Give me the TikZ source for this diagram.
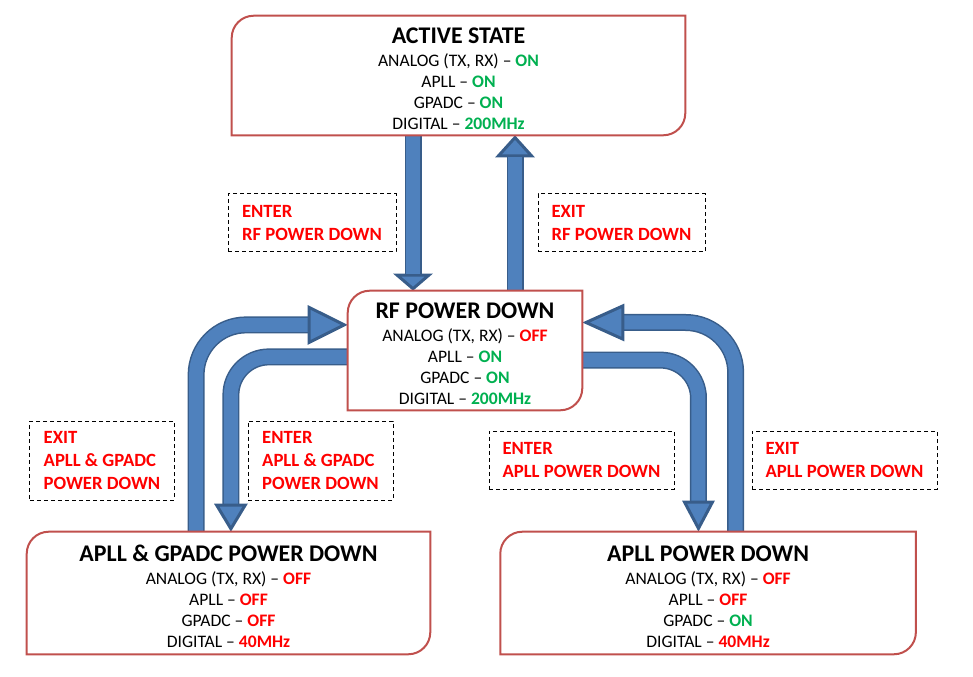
\documentclass[tikz,border=0pt]{standalone}
\usepackage{fontspec}
\setmainfont{Carlito}
\usetikzlibrary{arrows.meta,positioning}
\definecolor{StateRed}{HTML}{C0504D}
\definecolor{ArrowFill}{HTML}{4F81BD}
\definecolor{ArrowEdge}{HTML}{385D8A}
\definecolor{OnGreen}{HTML}{00B050}
\definecolor{OffRed}{HTML}{FF0000}
\newcommand{\valon}[1]{\textbf{\textcolor{OnGreen}{#1}}}
\newcommand{\valoff}[1]{\textbf{\textcolor{OffRed}{#1}}}
\newcommand{\sttitle}[1]{{\fontsize{17}{20}\selectfont\bfseries\rule{0pt}{5.6mm}#1}\\[0.5mm]}

\begin{document}
\begin{tikzpicture}[x=0.25mm,y=-0.25mm,
    state/.style={inner sep=0pt,align=center,font=\fontsize{12.5}{14.9}\selectfont},
    stateline/.style={draw=StateRed,line width=0.5mm},
    cond/.style={draw,line width=0.25mm,dash pattern=on 1mm off 0.75mm,inner sep=0pt,align=left,text=OffRed,font=\fontsize{13.3}{16.3}\selectfont\bfseries},
    blk/.style 2 args={draw=ArrowEdge,line width=4.25mm,-{Triangle[length=#1,width=#2,line width=0.75mm,fill=ArrowFill]},
      postaction={draw=ArrowFill,line width=3.5mm,-,shorten >=#1}}]
    \useasboundingbox (0,0) rectangle (973,677);
    % states
    \node[state,minimum width=113.25mm,minimum height=29.75mm] (active) at (458.5,75.5) {\sttitle{ACTIVE STATE}ANALOG (TX, RX) – \valon{ON}\\APLL – \valon{ON}\\GPADC – \valon{ON}\\DIGITAL – \valon{200MHz}};
    \node[state,minimum width=58.5mm,minimum height=29.75mm] (rf) at (465,350.5) {\sttitle{RF POWER DOWN}ANALOG (TX, RX) – \valoff{OFF}\\APLL – \valon{ON}\\GPADC – \valon{ON}\\DIGITAL – \valon{200MHz}};
    \node[state,minimum width=100.75mm,minimum height=30.5mm] (gp) at (228.5,593) {\sttitle{APLL \& GPADC POWER DOWN}ANALOG (TX, RX) – \valoff{OFF}\\APLL – \valoff{OFF}\\GPADC – \valoff{OFF}\\DIGITAL – \valoff{40MHz}};
    \node[state,minimum width=103.75mm,minimum height=30.5mm,right=17.5mm of gp] (apll) {\sttitle{APLL POWER DOWN}ANALOG (TX, RX) – \valoff{OFF}\\APLL – \valoff{OFF}\\GPADC – \valon{ON}\\DIGITAL – \valoff{40MHz}};
    % transition labels
    \node[cond,minimum width=42mm,minimum height=14.5mm] (enterrf) at (312,223) {ENTER\\RF POWER DOWN};
    \node[cond,minimum width=41.75mm,minimum height=14.5mm,right=35.25mm of enterrf] (exitrf) {EXIT\\RF POWER DOWN};
    \node[cond,minimum width=36mm,minimum height=19.75mm] (exitgp) at (102,460.5) {EXIT\\APLL \& GPADC\\POWER DOWN};
    \node[cond,minimum width=36.25mm,minimum height=19.75mm,right=18.25mm of exitgp] (entergp) {ENTER\\APLL \& GPADC\\POWER DOWN};
    \node[cond,minimum width=46.25mm,minimum height=14.5mm] (enterapll) at (581.5,460) {ENTER\\APLL POWER DOWN};
    \node[cond,minimum width=46.25mm,minimum height=14.5mm,right=19.25mm of enterapll] (exitapll) {EXIT\\APLL POWER DOWN};
    % block arrows
    \draw[blk={4.25mm}{9.75mm}] ([xshift=-13mm]rf.north |- active.south) -- ([xshift=-13mm]rf.north);
    \draw[blk={5.5mm}{9.75mm}] ([xshift=12.5mm]rf.north) -- ([xshift=12.5mm]rf.north |- active.south);
    \draw[blk={10mm}{9.75mm},rounded corners=12.5mm] ([xshift=-8.1mm]gp.north) |- ([yshift=6.4mm]rf.west);
    \draw[blk={7mm}{8.25mm},rounded corners=9.5mm] ([yshift=-1.6mm]rf.west) -| ([xshift=0.6mm]gp.north);
    \draw[blk={10.5mm}{9.25mm},rounded corners=12.5mm] ([xshift=6.9mm]apll.north) |- ([yshift=7mm]rf.east);
    \draw[blk={7.75mm}{8mm},rounded corners=9.5mm] ([yshift=-2.4mm]rf.east) -| ([xshift=-2.4mm]apll.north);
    % state frames, two rounded corners each
    \foreach \n in {active,rf,gp,apll}{
      \draw[stateline] (\n.south west) -- ([yshift=-5.5mm]\n.north west) arc[start angle=180,end angle=90,radius=5.5mm]
        -- (\n.north east) -- ([yshift=5.5mm]\n.south east) arc[start angle=0,end angle=-90,radius=5.5mm] -- cycle;
    }
\end{tikzpicture}
\end{document}
